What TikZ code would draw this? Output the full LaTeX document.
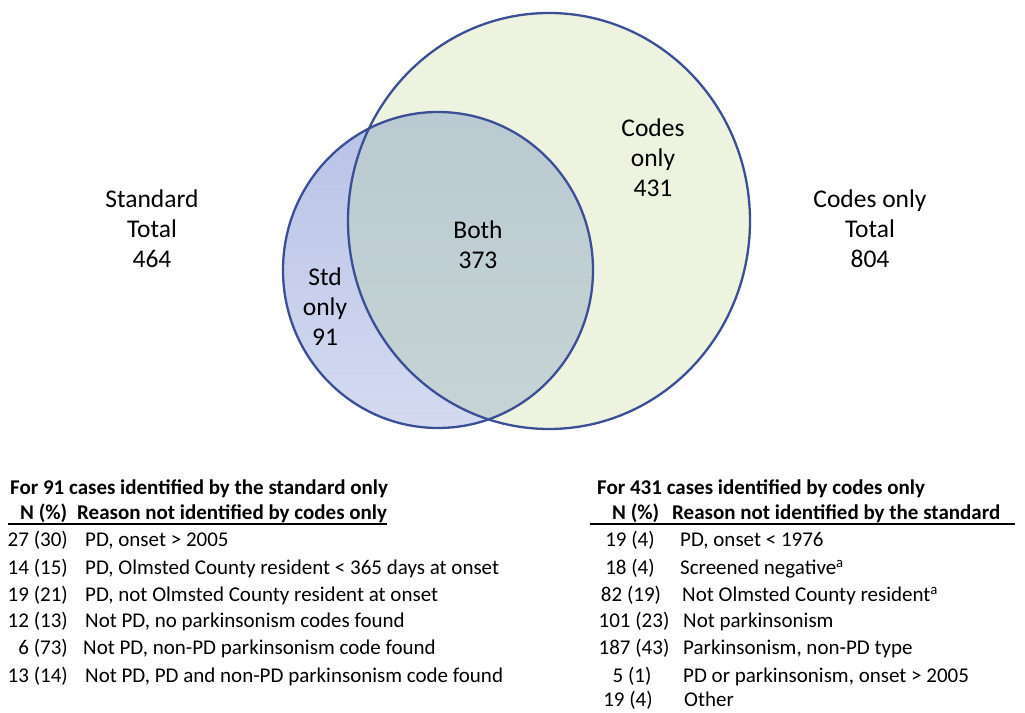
\documentclass[tikz,border=0pt]{standalone}
\usepackage{fontspec}
\setmainfont{Carlito}
\usepackage{tikz}
\usetikzlibrary{positioning}
\definecolor{vennline}{RGB}{58, 79, 150}
\definecolor{codesfill}{RGB}{238, 243, 224}
\definecolor{stdtop}{RGB}{184, 194, 230}
\definecolor{stdbot}{RGB}{212, 218, 241}
\definecolor{bothtop}{RGB}{186, 202, 210}
\definecolor{bothbot}{RGB}{199, 212, 212}

\begin{document}
\begin{tikzpicture}[x=1pt, y=1pt,
  venn/.style={align=center, inner sep=0pt, font=\fontsize{25.5}{30}\selectfont},
  hdr/.style={anchor=base west, inner sep=0pt, font=\fontsize{21}{27}\selectfont\bfseries},
  num/.style={anchor=base east, inner sep=0pt, font=\fontsize{21}{27}\selectfont},
  numc/.style={anchor=base, inner sep=0pt, font=\fontsize{21}{27}\selectfont},
  reason/.style={anchor=base west, inner sep=0pt, font=\fontsize{21}{27}\selectfont}]
\useasboundingbox (0,0) rectangle (1025,712);

% venn circles
\fill[codesfill] (549,491) ellipse [x radius=201, y radius=208];
\shade[top color=stdtop, bottom color=stdbot] (438,442) ellipse [x radius=155, y radius=158];
\begin{scope}
  \clip (549,491) ellipse [x radius=201, y radius=208];
  \shade[top color=bothtop, bottom color=bothbot] (438,442) ellipse [x radius=155, y radius=158];
\end{scope}
\draw[vennline, line width=2.3] (549,491) ellipse [x radius=201, y radius=208];
\draw[vennline, line width=2.3] (438,442) ellipse [x radius=155, y radius=158];

\node[venn] (stdtot) at (152,483) {Standard\\Total\\464};
\node[venn] (codestot) at (870,483) {Codes only\\Total\\804};
\node[venn] (codesonly) at (653,554) {Codes\\only\\431};
\node[venn] (both) at (478,467) {Both\\373};
\node[venn] (stdonly) at (325,405) {Std\\only\\91};

% left table
\node[hdr] (ltitle) at (10,217) {For 91 cases identified by the standard only};
\node[hdr] (lnhead) at (20,192) {N (\%)};
\node[hdr] (lrhead) at (77,192) {Reason not identified by codes only};
\draw[line width=1.6] (8,188) -- (387,188);
\node[num] (l1n) at (68,165) {27 (30)};
\node[reason] (l1r) at (85,165) {PD, onset > 2005};
\node[num] (l2n) at (68,137) {14 (15)};
\node[reason] (l2r) at (85,137) {PD, Olmsted County resident < 365 days at onset};
\node[num] (l3n) at (68,110) {19 (21)};
\node[reason] (l3r) at (85,110) {PD, not Olmsted County resident at onset};
\node[num] (l4n) at (68,84) {12 (13)};
\node[reason] (l4r) at (85,84) {Not PD, no parkinsonism codes found};
\node[num] (l5n) at (68,57) {6 (73)};
\node[reason] (l5r) at (83,57) {Not PD, non-PD parkinsonism code found};
\node[num] (l6n) at (68,30) {13 (14)};
\node[reason] (l6r) at (85,30) {Not PD, PD and non-PD parkinsonism code found};

% right table
\node[hdr] (rtitle) at (597,217) {For 431 cases identified by codes only};
\node[hdr] (rnhead) at (612,192) {N (\%)};
\node[hdr] (rrhead) at (672,192) {Reason not identified by the standard};
\draw[line width=1.6] (590,188) -- (1015,188);
\node[numc] (r1n) at (630,165) {19 (4)};
\node[reason] (r1r) at (680,165) {PD, onset < 1976};
\node[numc] (r2n) at (630,137) {18 (4)};
\node[reason] (r2r) at (680,137) {Screened negative\textsuperscript{a}};
\node[numc] (r3n) at (631,110) {82 (19)};
\node[reason] (r3r) at (682,110) {Not Olmsted County resident\textsuperscript{a}};
\node[numc] (r4n) at (634,84) {101 (23)};
\node[reason] (r4r) at (683,84) {Not parkinsonism};
\node[numc] (r5n) at (634,57) {187 (43)};
\node[reason] (r5r) at (683,57) {Parkinsonism, non-PD type};
\node[numc] (r6n) at (632,30) {5 (1)};
\node[reason] (r6r) at (683,30) {PD or parkinsonism, onset > 2005};
\node[numc] (r7n) at (628,6) {19 (4)};
\node[reason] (r7r) at (684,6) {Other};
\end{tikzpicture}
\end{document}
